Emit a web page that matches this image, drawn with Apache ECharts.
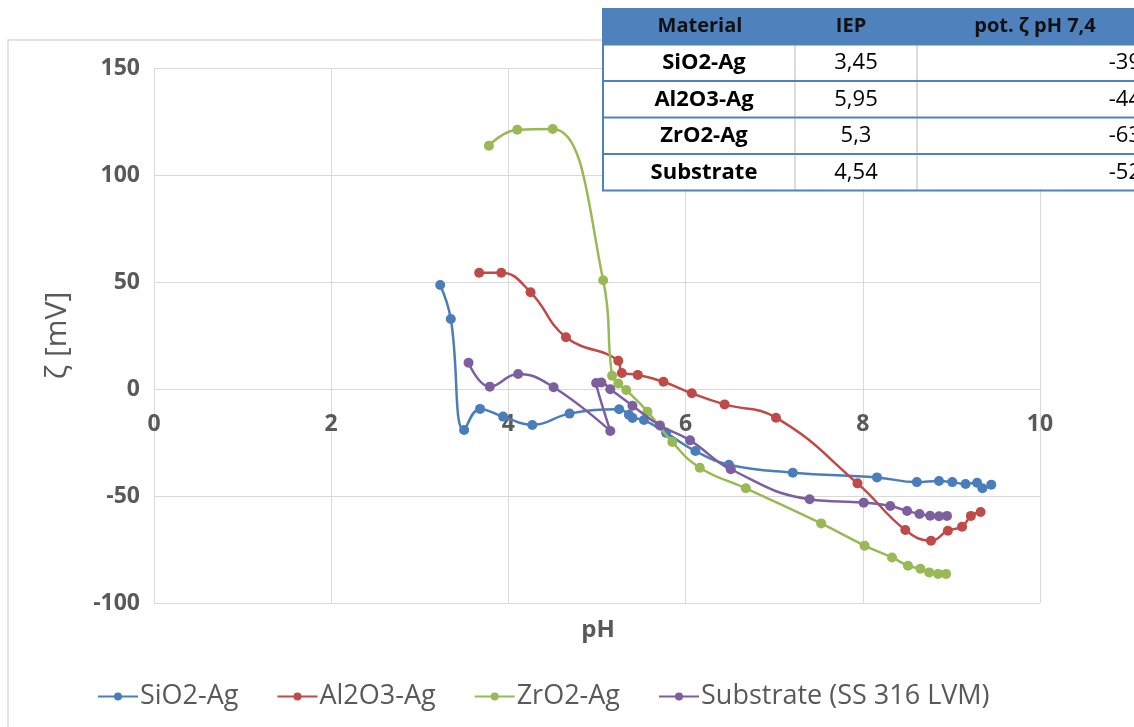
<!DOCTYPE html>
<html>
<head>
<meta charset="utf-8">
<script src="https://cdn.jsdelivr.net/npm/echarts@6/dist/echarts.min.js"></script>
<style>
html,body{margin:0;padding:0;background:#fff;}
#chart{width:1134px;height:727px;}
</style>
</head>
<body>
<div id="chart"></div>
<script>
// ---- data ----
const seriesNames = ['SiO2-Ag', 'Al2O3-Ag', 'ZrO2-Ag', 'Substrate (SS 316 LVM)'];
const sio2X = [3.23, 3.35, 3.50, 3.68, 3.94, 4.27, 4.69, 5.25, 5.36, 5.40, 5.53, 5.78, 6.11, 6.49, 7.21, 8.16, 8.61, 8.86, 9.01, 9.16, 9.29, 9.35, 9.45];
const sio2Y = [48.6, 32.7, -19.2, -9.3, -12.9, -16.8, -11.5, -9.5, -12.0, -13.5, -14.5, -20.5, -29.0, -35.4, -39.1, -41.3, -43.5, -43.0, -43.5, -44.4, -43.8, -46.4, -44.7];
const al2o3X = [3.67, 3.92, 4.25, 4.65, 5.24, 5.28, 5.46, 5.75, 6.07, 6.44, 7.02, 7.94, 8.48, 8.77, 8.96, 9.12, 9.22, 9.33];
const al2o3Y = [54.3, 54.3, 45.2, 24.2, 13.2, 7.5, 6.6, 3.4, -2.0, -7.2, -13.4, -44.1, -65.9, -70.9, -66.2, -64.4, -59.3, -57.5];
const zro2X = [3.78, 4.10, 4.50, 5.07, 5.17, 5.24, 5.33, 5.57, 5.85, 6.16, 6.68, 7.53, 8.02, 8.33, 8.51, 8.65, 8.75, 8.85, 8.94];
const zro2Y = [113.7, 121.2, 121.5, 50.8, 6.2, 2.6, -0.5, -10.6, -24.8, -36.8, -46.4, -62.8, -73.2, -78.7, -82.6, -84.0, -85.7, -86.4, -86.4];
const subX = [3.55, 3.79, 4.11, 4.51, 5.15, 4.99, 5.05, 5.15, 5.40, 5.71, 6.05, 6.51, 7.40, 8.01, 8.31, 8.50, 8.64, 8.76, 8.86, 8.95];
const subY = [12.3, 1.1, 7.0, 0.8, -19.6, 2.8, 3.0, -0.1, -7.8, -17.0, -24.0, -37.5, -51.5, -53.1, -54.7, -57.0, -58.4, -59.2, -59.5, -59.3];

// table
const tableHeader = ['Material', 'IEP', 'pot. ζ pH 7,4'];
const tableMaterial = ['SiO2-Ag', 'Al2O3-Ag', 'ZrO2-Ag', 'Substrate'];
const tableIEP = ['3,45', '5,95', '5,3', '4,54'];
const tablePot = ['-39', '-44', '-63', '-52'];

const colors = ['#4A7EBB', '#BE4B48', '#98B954', '#7D5FA0'];
const FONT = '"Open Sans", "Noto Sans", sans-serif';

function pairs(xs, ys) { return xs.map((x, i) => [x, ys[i]]); }
const allX = [sio2X, al2o3X, zro2X, subX];
const allY = [sio2Y, al2o3Y, zro2Y, subY];

const chart = echarts.init(document.getElementById('chart'));

// table graphics
const tg = [];
const tLeft = 602, tTop = 8, rowH = 36.5, colX = [602, 795, 917, 1160];
tg.push({type: 'rect', shape: {x: tLeft, y: tTop, width: 540, height: rowH}, style: {fill: '#4F81BD'}, z: 100});
tg.push({type: 'rect', shape: {x: tLeft, y: tTop + rowH, width: 540, height: rowH * 4}, style: {fill: '#ffffff'}, z: 100});
[colX[1], colX[2]].forEach(cx => {
  tg.push({type: 'line', shape: {x1: cx, y1: tTop + rowH, x2: cx, y2: tTop + rowH * 5}, style: {stroke: '#d0d0d0', lineWidth: 1.5}, z: 101});
});
for (let r = 1; r <= 5; r++) {
  const yy = tTop + rowH * r;
  tg.push({type: 'line', shape: {x1: tLeft, y1: yy, x2: 1134, y2: yy}, style: {stroke: '#4F81BD', lineWidth: 2}, z: 102});
}
tg.push({type: 'line', shape: {x1: tLeft + 1, y1: tTop, x2: tLeft + 1, y2: tTop + rowH * 5}, style: {stroke: '#4F81BD', lineWidth: 2}, z: 102});
const hdrCx = [700, 851, 1035];
tableHeader.forEach((t, i) => {
  tg.push({type: 'text', x: hdrCx[i], y: tTop + rowH / 2, style: {text: t, fill: '#111', font: 'bold 20px ' + FONT, align: 'center', verticalAlign: 'middle'}, z: 103});
});
tableMaterial.forEach((t, r) => {
  const cy = tTop + rowH * (r + 1.5);
  tg.push({type: 'text', x: 704, y: cy, style: {text: t, fill: '#000', font: 'bold 22px ' + FONT, align: 'center', verticalAlign: 'middle'}, z: 103});
  tg.push({type: 'text', x: 856, y: cy, style: {text: tableIEP[r], fill: '#000', font: '22px ' + FONT, align: 'center', verticalAlign: 'middle'}, z: 103});
  tg.push({type: 'text', x: 1141, y: cy, style: {text: tablePot[r], fill: '#000', font: '22px ' + FONT, align: 'right', verticalAlign: 'middle'}, z: 103});
});
tg.push({type: 'rect', shape: {x: 8, y: 40, width: 1200, height: 800}, style: {fill: 'none', stroke: '#d9d9d9', lineWidth: 1.5}, z: 0});
tg.push({type: 'text', x: 598, y: 630, style: {text: 'pH', fill: '#595959', font: 'bold 24px ' + FONT, align: 'center', verticalAlign: 'middle'}, z: 10});

const option = {
  backgroundColor: '#fff',
  animation: false,
  color: colors,
  grid: {left: 154, right: 94, top: 68, bottom: 124, containLabel: false},
  xAxis: {
    type: 'value', min: 0, max: 10, interval: 2,
    offset: -214,
    axisLine: {show: true, onZero: false, lineStyle: {color: '#d9d9d9', width: 1}},
    axisTick: {show: false},
    splitLine: {show: true, lineStyle: {color: '#d9d9d9', width: 1}},
    axisLabel: {color: '#595959', fontSize: 23, fontWeight: 'bold', fontFamily: FONT, margin: 24}
  },
  yAxis: {
    type: 'value', min: -100, max: 150, interval: 50,
    name: 'ζ [mV]', nameLocation: 'middle', nameGap: 82,
    nameTextStyle: {color: '#595959', fontSize: 30, fontFamily: FONT},
    axisLine: {show: true, lineStyle: {color: '#d9d9d9', width: 1}},
    axisTick: {show: false},
    splitLine: {show: true, lineStyle: {color: '#d9d9d9', width: 1}},
    axisLabel: {color: '#595959', fontSize: 23, fontWeight: 'bold', fontFamily: FONT, margin: 14}
  },
  legend: {
    bottom: 12, left: 92,
    itemWidth: 40, itemHeight: 10, itemGap: 38,
    textStyle: {color: '#595959', fontSize: 27, fontFamily: FONT, padding: [0, 0, 0, -3]},
    data: seriesNames
  },
  graphic: tg,
  series: seriesNames.map((n, i) => ({
    name: n, type: 'line',
    data: pairs(allX[i], allY[i]),
    smooth: 0.45,
    symbol: 'circle', symbolSize: 10,
    lineStyle: {width: 2.5, color: colors[i]},
    itemStyle: {color: colors[i]},
    z: 2 + i
  }))
};
chart.setOption(option);
</script>
</body>
</html>
